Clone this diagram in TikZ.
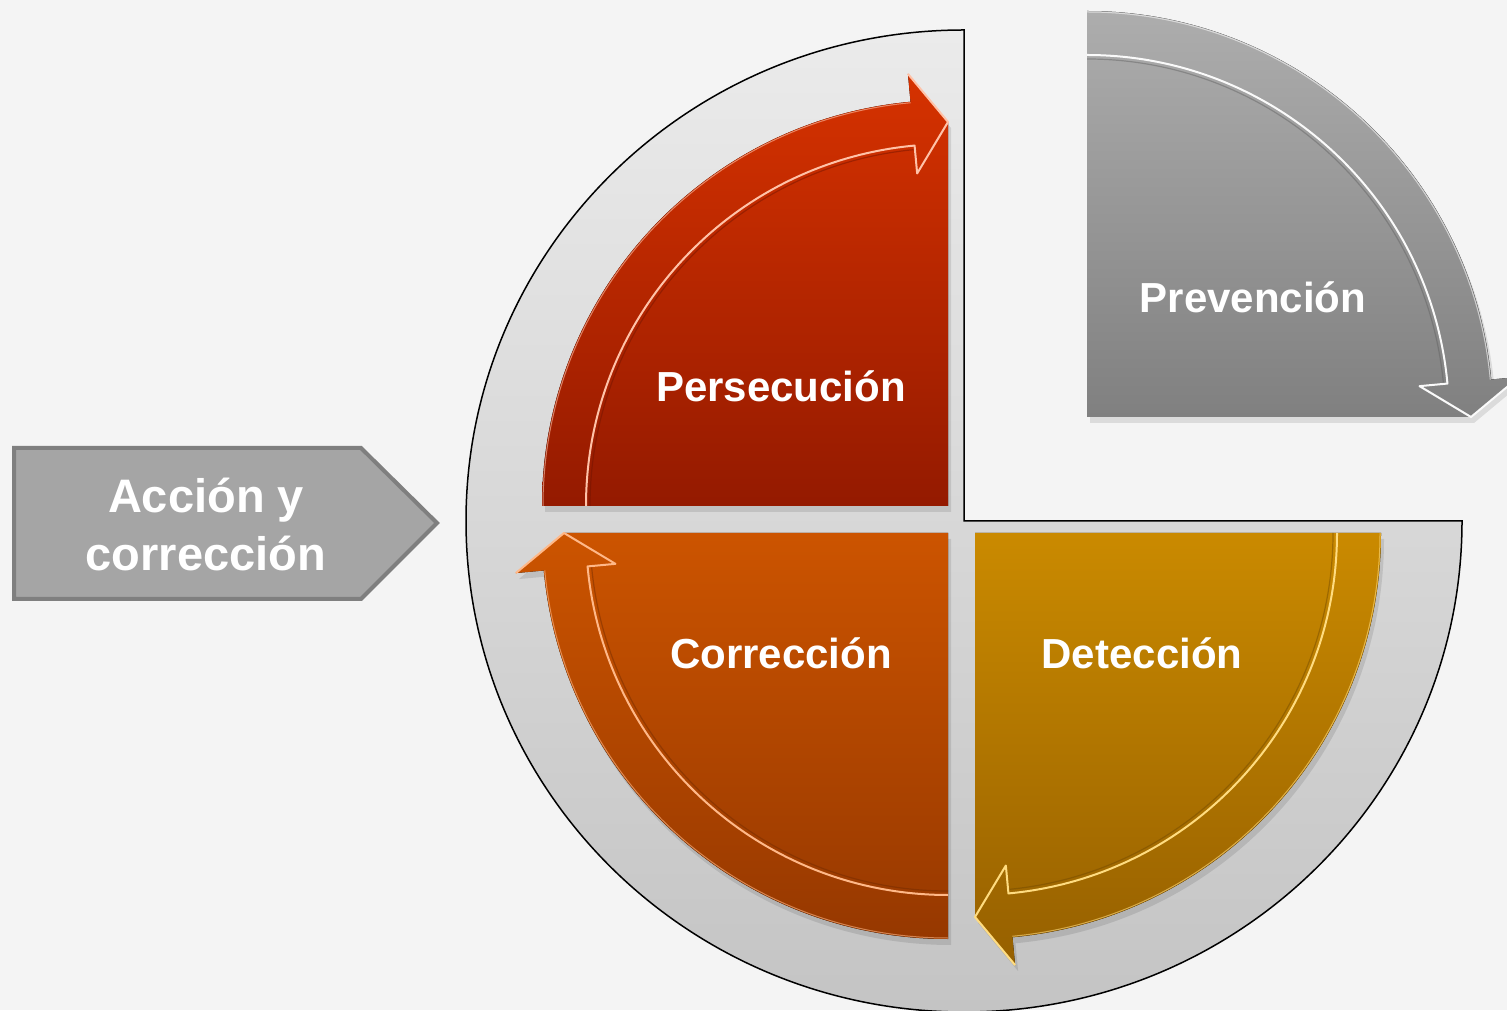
\documentclass[tikz,border=0pt]{standalone}
\usepackage{fontspec}
\setmainfont{Liberation Sans}
\definecolor{bg}{HTML}{F4F4F4}
\definecolor{ringtop}{HTML}{EBEBEB}
\definecolor{ringbot}{HTML}{C4C4C4}
\definecolor{perTop}{HTML}{D63200}
\definecolor{perBot}{HTML}{941A00}
\definecolor{perHi}{HTML}{FFC2A8}
\definecolor{corTop}{HTML}{CC5400}
\definecolor{corBot}{HTML}{963800}
\definecolor{corHi}{HTML}{FFB888}
\definecolor{detTop}{HTML}{CA8A00}
\definecolor{detBot}{HTML}{966000}
\definecolor{detHi}{HTML}{FFDC80}
\definecolor{preTop}{HTML}{ADADAD}
\definecolor{preBot}{HTML}{808080}
\definecolor{preHi}{HTML}{FAFAFA}
\definecolor{tagFill}{HTML}{A5A5A5}
\definecolor{tagLine}{HTML}{7F7F7F}
\tikzset{
  lbl/.style={text=white, font=\bfseries\fontsize{42}{50}\selectfont, anchor=base, inner sep=0pt},
  taglbl/.style={text=white, font=\bfseries\fontsize{47}{58}\selectfont, align=center, inner sep=0pt},
  ring/.style={top color=ringtop, bottom color=ringbot, draw=black, line width=1.5pt},
  tagshape/.style={fill=tagFill, draw=tagLine, line width=4pt, line join=miter},
}
% #1 cx, #2 cy, #3 start angle, #4 top colour, #5 bottom colour, #6 highlight colour
\newcommand\qarrow[6]{%
  \begin{scope}[shift={(#1,#2)}]
    \pgfmathsetmacro\qea{#3-90}
    \pgfmathsetmacro\qeb{#3-84.7}
    \fill[black, opacity=0.10, shift={(3,-6)}] (0,0) -- (#3:406) arc[start angle=#3, end angle=\qeb, radius=406] -- (\qeb:434) -- (\qea:384) -- cycle;
    \fill[top color=#4, bottom color=#5] (0,0) -- (#3:406) arc[start angle=#3, end angle=\qeb, radius=406] -- (\qeb:434) -- (\qea:384) -- cycle;
    \draw[#5!75!black, line width=1.2pt, opacity=0.45] (#3:358) arc[start angle=#3, end angle=\qeb, radius=358];
    \draw[#6, line width=2pt, line join=round] (#3:362) arc[start angle=#3, end angle=\qeb, radius=362] -- (\qeb:334) -- (\qea:384) -- (\qeb:434);
    \draw[#6, line width=1pt, opacity=0.6] (#3:405) arc[start angle=#3, end angle=\qeb, radius=405];
  \end{scope}}
\begin{document}
\begin{tikzpicture}[x=1pt, y=1pt]
  \useasboundingbox (0,0) rectangle (1507,1010);
  \fill[bg] (0,0) rectangle (1507,1010);

  % three-quarter disc
  \path[ring] (964,489) -- ++(0,491) arc[start angle=90, end angle=360, x radius=498, y radius=491] -- cycle;

  % quadrants
  \qarrow{948}{504}{180}{perTop}{perBot}{perHi}
  \qarrow{948}{477}{270}{corTop}{corBot}{corHi}
  \qarrow{975}{477}{360}{detTop}{detBot}{detHi}
  \qarrow{1087}{593}{90}{preTop}{preBot}{preHi}

  % labels
  \node[lbl] (per) at (781,608) {Persecución};
  \node[lbl] (cor) at (781,341) {Corrección};
  \node[lbl] (det) at (1142,341) {Detección};
  \node[lbl] (pre) at (1253,697) {Prevención};

  % left tag
  \path[tagshape] (14,562) -- (361,562) -- (437,487) -- (361,411) -- (14,411) -- cycle;
  \node[taglbl] (acc) at (206,486) {Acción y\\corrección};
\end{tikzpicture}
\end{document}
